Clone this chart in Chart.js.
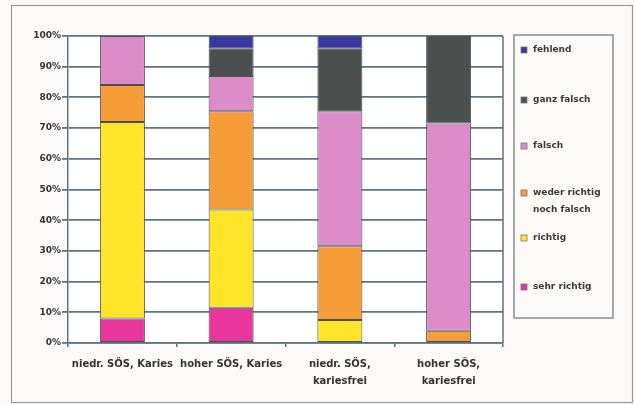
<!DOCTYPE html>
<html>
<head>
<meta charset="utf-8">
<script src="https://cdn.jsdelivr.net/npm/chart.js@4/dist/chart.umd.min.js"></script>
<style>
  html, body { margin: 0; padding: 0; background: #fcfaf8; }
  #wrap { width: 635px; height: 405px; position: relative; }
</style>
</head>
<body>
<div id="wrap"><canvas id="c" width="635" height="405"></canvas></div>
<script>
// Gruppen (x-Achse)
const categories = [
  'niedr. SÖS, Karies',
  'hoher SÖS, Karies',
  ['niedr. SÖS,', 'kariesfrei'],
  ['hoher SÖS,', 'kariesfrei']
];

// Antwortanteile in Prozent je Gruppe
const sehrRichtig = [8, 11.5, 0, 0];
const richtig     = [64, 32, 7.5, 0];
const weder       = [12, 32, 24, 4];
const falsch      = [16, 11.5, 44, 67.5];
const ganzFalsch  = [0, 9, 20.5, 28.5];
const fehlend     = [0, 4, 4, 0];

const yTicks = [0, 10, 20, 30, 40, 50, 60, 70, 80, 90, 100];

const FONT = '"DejaVu Sans", Verdana, sans-serif';
const GRID = '#5f7483';

function ds(label, data, color) {
  return {
    label, data,
    backgroundColor: color,
    borderColor: '#4a5054',
    borderWidth: 1,
    borderSkipped: false,
    barPercentage: 0.414,
    categoryPercentage: 1.0
  };
}

// Rahmen um das Diagramm, Plotflächenrand und Legende
const decor = {
  id: 'decor',
  beforeDraw(chart) {
    const ctx = chart.ctx;
    ctx.save();
    ctx.fillStyle = '#fcfaf8';
    ctx.fillRect(0, 0, chart.width, chart.height);
    const a = chart.chartArea;
    ctx.fillStyle = '#ffffff';
    ctx.fillRect(a.left, a.top, a.right - a.left, a.bottom - a.top);
    ctx.restore();
  },
  afterDraw(chart) {
    const ctx = chart.ctx;
    const a = chart.chartArea;
    ctx.save();
    // äußerer Rahmen
    ctx.strokeStyle = '#9a9a9a';
    ctx.lineWidth = 1.2;
    ctx.strokeRect(11.5, 5.5, 621, 397);
    // rechter Rand der Plotfläche
    ctx.strokeStyle = GRID;
    ctx.lineWidth = 1.5;
    ctx.beginPath();
    ctx.moveTo(a.right, a.top);
    ctx.lineTo(a.right, a.bottom);
    ctx.stroke();

    // Legende
    const lx = 514, ly = 35, lw = 99, lh = 283;
    ctx.strokeStyle = '#858d94';
    ctx.lineWidth = 1.5;
    ctx.strokeRect(lx, ly, lw, lh);
    const rows = [50, 100, 146, 193, 238, 287];
    const items = chart.data.datasets.slice().reverse();
    ctx.font = 'bold 9px ' + FONT;
    ctx.textBaseline = 'middle';
    items.forEach((d, i) => {
      const y = rows[i];
      ctx.fillStyle = d.backgroundColor;
      ctx.fillRect(521, y - 3, 6, 6);
      ctx.strokeStyle = '#777';
      ctx.lineWidth = 0.8;
      ctx.strokeRect(521, y - 3, 6, 6);
      ctx.fillStyle = '#3a3a3a';
      // Zeilenumbruch bei zu langen Einträgen
      const words = d.label.split(' ');
      const lines = [];
      let cur = '';
      words.forEach(w => {
        const t = cur ? cur + ' ' + w : w;
        if (ctx.measureText(t).width > 76 && cur) { lines.push(cur); cur = w; }
        else cur = t;
      });
      lines.push(cur);
      lines.forEach((ln, k) => ctx.fillText(ln, 533, y + k * 17));
    });
    ctx.restore();
  }
};

new Chart(document.getElementById('c'), {
  type: 'bar',
  data: {
    labels: categories,
    datasets: [
      ds('sehr richtig', sehrRichtig, '#e8369c'),
      ds('richtig', richtig, '#ffe52a'),
      ds('weder richtig noch falsch', weder, '#f69d3a'),
      ds('falsch', falsch, '#dc8cc8'),
      ds('ganz falsch', ganzFalsch, '#4b4f4e'),
      ds('fehlend', fehlend, '#3b36a6')
    ]
  },
  options: {
    responsive: false,
    animation: false,
    devicePixelRatio: 1,
    layout: { padding: { left: 0, right: 132, top: 36, bottom: 0 } },
    plugins: { legend: { display: false }, tooltip: { enabled: false } },
    scales: {
      x: {
        stacked: true,
        afterFit(s) { s.height = 62; },
        grid: { drawOnChartArea: false, drawTicks: true, tickLength: 4, color: GRID, lineWidth: 1.5 },
        border: { display: true, color: GRID, width: 1.5 },
        ticks: {
          color: '#333',
          font: { family: FONT, size: 10, weight: 'bold', lineHeight: 1.7 },
          maxRotation: 0, minRotation: 0, autoSkip: false, padding: 9
        }
      },
      y: {
        stacked: true,
        min: 0, max: 100,
        afterFit(s) { s.width = 68; },
        afterBuildTicks(s) { s.ticks = yTicks.map(v => ({ value: v })); },
        grid: { color: GRID, lineWidth: 1.8, tickLength: 6, drawTicks: true },
        border: { display: true, color: GRID, width: 1.5 },
        ticks: {
          color: '#333',
          font: { family: FONT, size: 9, weight: 'bold' },
          padding: 1,
          callback: v => v + '%'
        }
      }
    }
  },
  plugins: [decor]
});
</script>
</body>
</html>
